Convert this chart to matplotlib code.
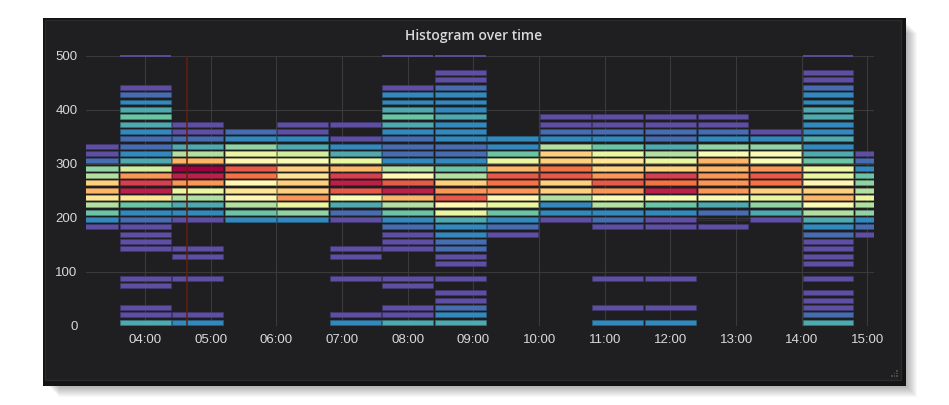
import matplotlib
matplotlib.use("Agg")
import matplotlib.pyplot as plt
from matplotlib.patches import Rectangle
from matplotlib import colors as mcolors

# --- dados -----------------------------------------------------------------
BUCKET = 13.6          # altura de cada faixa do histograma
COL_H = 0.8            # largura de cada coluna (horas) = 48 min
Y_MAX = 500
X_RANGE = ("03:06", "15:06")
MARCA = "04:38"        # anotacao vertical

inicio = ["02:48", "03:36", "04:24", "05:12", "06:00", "06:48", "07:36", "08:24",
          "09:12", "10:00", "10:48", "11:36", "12:24", "13:12", "14:00", "14:48"]

# contagem por faixa (indice da faixa -> contagem); faixa 37 fica acima de 500
c0248 = {13: 1, 14: 3, 15: 5, 16: 7, 17: 12, 18: 14, 19: 13, 20: 7, 21: 6, 22: 2, 23: 1, 24: 1}
c0336 = {0: 4, 1: 1, 2: 1, 5: 1, 6: 1, 10: 1, 11: 1, 12: 1, 13: 1, 14: 2, 15: 3, 16: 5, 17: 12,
         18: 19, 19: 18, 20: 15, 21: 8, 22: 4, 23: 3, 24: 2, 25: 2, 26: 3, 27: 4, 28: 5, 29: 4,
         30: 3, 31: 2, 32: 1, 37: 1}
c0424 = {0: 3, 1: 1, 6: 1, 9: 1, 10: 1, 14: 1, 15: 3, 16: 4, 17: 7, 18: 9, 19: 15, 20: 19,
         21: 20, 22: 14, 23: 7, 24: 4, 25: 2, 26: 1, 27: 1}
c0512 = {14: 3, 15: 5, 16: 7, 17: 11, 18: 12, 19: 11, 20: 16, 21: 17, 22: 11, 23: 9, 24: 6,
         25: 3, 26: 2}
c0600 = {14: 3, 15: 6, 16: 9, 17: 15, 18: 13, 19: 13, 20: 12, 21: 13, 22: 10, 23: 8, 24: 4,
         25: 3, 26: 1, 27: 1}
c0648 = {0: 3, 1: 1, 6: 1, 9: 1, 10: 1, 14: 1, 15: 2, 16: 4, 17: 10, 18: 17, 19: 19, 20: 18,
         21: 14, 22: 9, 23: 4, 24: 3, 25: 1, 27: 1}
c0736 = {0: 4, 1: 1, 2: 1, 5: 1, 6: 1, 10: 1, 11: 1, 12: 1, 13: 2, 14: 3, 15: 5, 16: 7, 17: 14,
         18: 19, 19: 17, 20: 11, 21: 7, 22: 3, 23: 2, 24: 2, 25: 2, 26: 3, 27: 4, 28: 5, 29: 4,
         30: 3, 31: 3, 32: 1, 37: 1}
c0824 = {0: 4, 1: 3, 2: 2, 3: 1, 4: 1, 6: 1, 8: 1, 9: 1, 10: 2, 11: 2, 12: 3, 13: 3, 14: 4,
         15: 9, 16: 11, 17: 17, 18: 15, 19: 13, 20: 7, 21: 5, 22: 3, 23: 2, 24: 2, 25: 3, 26: 3,
         27: 3, 28: 4, 29: 3, 30: 3, 31: 3, 32: 2, 33: 1, 34: 1, 37: 1}
c0912 = {12: 1, 13: 2, 14: 3, 15: 5, 16: 9, 17: 11, 18: 15, 19: 16, 20: 17, 21: 14, 22: 9,
         23: 5, 24: 3, 25: 3}
c1000 = {14: 1, 15: 3, 16: 3, 17: 7, 18: 13, 19: 13, 20: 17, 21: 16, 22: 13, 23: 13, 24: 7,
         25: 3, 26: 2, 27: 1, 28: 1}
c1048 = {0: 3, 2: 1, 6: 1, 13: 1, 14: 2, 15: 3, 16: 7, 17: 10, 18: 15, 19: 17, 20: 15, 21: 13,
         22: 12, 23: 9, 24: 5, 25: 3, 26: 2, 27: 1, 28: 1}
c1136 = {0: 3, 2: 1, 6: 1, 13: 1, 14: 1, 15: 3, 16: 5, 17: 10, 18: 19, 19: 16, 20: 18, 21: 13,
         22: 9, 23: 7, 24: 4, 25: 2, 26: 2, 27: 1, 28: 1}
c1224 = {13: 1, 14: 0, 15: 2, 16: 4, 17: 10, 18: 15, 19: 15, 20: 15, 21: 14, 22: 14, 23: 10,
         24: 6, 25: 3, 26: 2, 27: 1, 28: 1}
c1312 = {14: 1, 15: 4, 16: 6, 17: 9, 18: 13, 19: 16, 20: 17, 21: 15, 22: 10, 23: 10, 24: 6,
         25: 3, 26: 1}
c1400 = {0: 4, 1: 2, 2: 1, 3: 1, 4: 1, 6: 1, 8: 1, 9: 1, 10: 1, 11: 1, 12: 2, 13: 3, 14: 4,
         15: 7, 16: 10, 17: 14, 18: 13, 19: 11, 20: 9, 21: 9, 22: 5, 23: 4, 24: 3, 25: 4, 26: 3,
         27: 3, 28: 4, 29: 4, 30: 3, 31: 3, 32: 2, 33: 1, 34: 1, 37: 1}
c1448 = {12: 1, 13: 2, 14: 3, 15: 6, 16: 7, 17: 9, 18: 7, 19: 6, 20: 5, 21: 3, 22: 2, 23: 1}

colunas = [c0248, c0336, c0424, c0512, c0600, c0648, c0736, c0824,
           c0912, c1000, c1048, c1136, c1224, c1312, c1400, c1448]

x_ticks = ["04:00", "05:00", "06:00", "07:00", "08:00", "09:00", "10:00",
           "11:00", "12:00", "13:00", "14:00", "15:00"]
y_ticks = [0, 100, 200, 300, 400, 500]

CMIN, CMAX = 1, 20


def horas(s):
    h, m = s.split(":")
    return int(h) + int(m) / 60.0


# --- figura ----------------------------------------------------------------
W, H = 949, 405
BG = "#1f1e20"
TXT = "#d8d9da"
cmap = plt.get_cmap("Spectral_r")
norm = mcolors.Normalize(CMIN, CMAX)

fig = plt.figure(figsize=(W / 100, H / 100), dpi=100, facecolor="white")


def caixa(x0, y0, x1, y1, z=-10, **kw):
    fig.add_artist(Rectangle((x0 / W, 1 - y1 / H), (x1 - x0) / W, (y1 - y0) / H,
                             transform=fig.transFigure, zorder=z, **kw))


# sombra + moldura do painel
for s in range(1, 12):
    caixa(48 + s, 22 + s, 906 + s, 386 + s, color="black", alpha=0.028, lw=0)
caixa(43, 18, 906, 386, color="#141414", lw=0)
caixa(45, 20, 901, 380, facecolor=BG, edgecolor="#2a2a2b", lw=1)

ax = fig.add_axes([86 / W, 1 - 326 / H, 788 / W, 270 / H])
ax.set_facecolor("none")
ax.set_xlim(horas(X_RANGE[0]), horas(X_RANGE[1]))
ax.set_ylim(0, Y_MAX)

gx = 0.013      # folga horizontal (horas)
gy = 2.2        # folga vertical (unidades)
for ini, col in zip(inicio, colunas):
    x0 = horas(ini)
    for k, c in col.items():
        y0 = k * BUCKET
        if y0 >= Y_MAX:
            ax.plot([x0 + gx, x0 + COL_H - gx], [Y_MAX, Y_MAX], color=cmap(norm(c)),
                    lw=1.3, solid_capstyle="butt", clip_on=False, zorder=3)
            continue
        if c == 0:
            ax.plot([x0 + gx, x0 + COL_H - gx], [y0 + BUCKET / 2] * 2, color="#303031",
                    lw=1.0, zorder=2)
            continue
        fc = cmap(norm(c))
        ec = tuple(v * 0.7 for v in fc[:3])
        ax.add_patch(Rectangle((x0 + gx, y0 + gy), COL_H - 2 * gx, BUCKET - 2 * gy,
                               facecolor=fc, edgecolor=ec, lw=0.45, zorder=2))

ax.axvline(horas(MARCA), color="#64200f", lw=1.1, zorder=4)

ax.set_yticks(y_ticks)
ax.set_xticks([horas(t) for t in x_ticks])
ax.set_xticklabels(x_ticks)
ax.grid(True, color="#3a3a3b", lw=0.8)
ax.set_axisbelow(True)
for sp in ax.spines.values():
    sp.set_visible(False)
ax.tick_params(length=0, colors=TXT, labelsize=9.5, pad=6)
for lab in ax.get_xticklabels() + ax.get_yticklabels():
    lab.set_family(["Liberation Sans", "DejaVu Sans"])

fig.text(474 / W, 1 - 36 / H, "Histogram over time", ha="center", va="center",
         color=TXT, fontsize=10, fontweight="semibold", family=["Open Sans", "DejaVu Sans"])

# alca de redimensionar
for i, j in [(0, 0), (1, 0), (2, 0), (1, 1), (2, 1), (2, 2)]:
    caixa(891 + 2.5 * i, 375 - 2.5 * j, 892.5 + 2.5 * i, 376.5 - 2.5 * j, z=-5,
          color="#4a4a4a", lw=0)

fig.savefig("out.png", dpi=100, facecolor="white")
